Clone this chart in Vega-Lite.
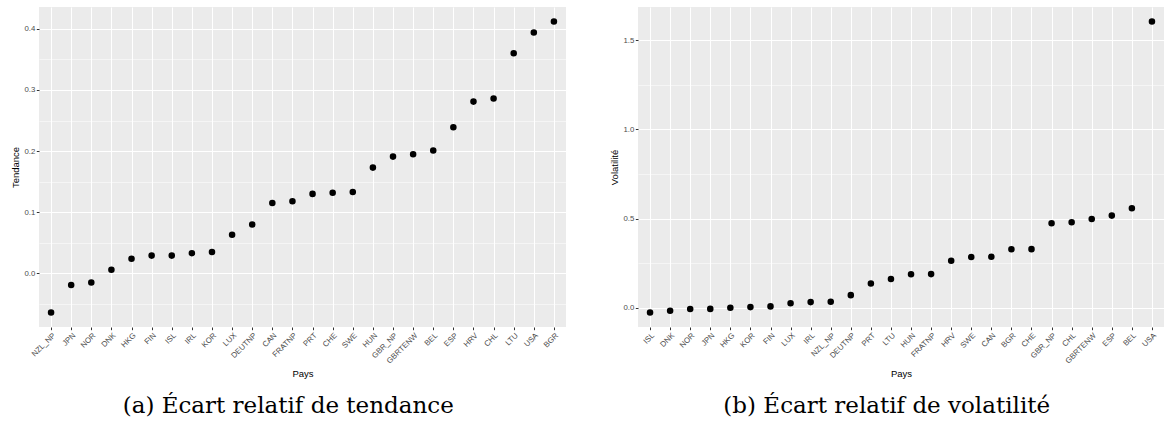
{
  "$schema": "https://vega.github.io/schema/vega-lite/v6.json",
  "background": "white",
  "padding": {"left": 10, "top": 7, "right": 0, "bottom": 0},
  "spacing": 43,
  "datasets": {
    "tendance": [
      {"pays": "NZL_NP", "ecart": -0.064},
      {"pays": "JPN", "ecart": -0.019},
      {"pays": "NOR", "ecart": -0.015},
      {"pays": "DNK", "ecart": 0.006},
      {"pays": "HKG", "ecart": 0.024},
      {"pays": "FIN", "ecart": 0.029},
      {"pays": "ISL", "ecart": 0.029},
      {"pays": "IRL", "ecart": 0.033},
      {"pays": "KOR", "ecart": 0.035},
      {"pays": "LUX", "ecart": 0.063},
      {"pays": "DEUTNP", "ecart": 0.080},
      {"pays": "CAN", "ecart": 0.115},
      {"pays": "FRATNP", "ecart": 0.118},
      {"pays": "PRT", "ecart": 0.130},
      {"pays": "CHE", "ecart": 0.132},
      {"pays": "SWE", "ecart": 0.133},
      {"pays": "HUN", "ecart": 0.173},
      {"pays": "GBR_NP", "ecart": 0.191},
      {"pays": "GBRTENW", "ecart": 0.195},
      {"pays": "BEL", "ecart": 0.201},
      {"pays": "ESP", "ecart": 0.239},
      {"pays": "HRV", "ecart": 0.281},
      {"pays": "CHL", "ecart": 0.286},
      {"pays": "LTU", "ecart": 0.360},
      {"pays": "USA", "ecart": 0.394},
      {"pays": "BGR", "ecart": 0.412}
    ],
    "volatilite": [
      {"pays": "ISL", "ecart": -0.026},
      {"pays": "DNK", "ecart": -0.017},
      {"pays": "NOR", "ecart": -0.007},
      {"pays": "JPN", "ecart": -0.006},
      {"pays": "HKG", "ecart": 0.000},
      {"pays": "KOR", "ecart": 0.004},
      {"pays": "FIN", "ecart": 0.008},
      {"pays": "LUX", "ecart": 0.026},
      {"pays": "IRL", "ecart": 0.032},
      {"pays": "NZL_NP", "ecart": 0.034},
      {"pays": "DEUTNP", "ecart": 0.071},
      {"pays": "PRT", "ecart": 0.136},
      {"pays": "LTU", "ecart": 0.161},
      {"pays": "HUN", "ecart": 0.188},
      {"pays": "FRATNP", "ecart": 0.189},
      {"pays": "HRV", "ecart": 0.264},
      {"pays": "SWE", "ecart": 0.285},
      {"pays": "CAN", "ecart": 0.286},
      {"pays": "BGR", "ecart": 0.328},
      {"pays": "CHE", "ecart": 0.329},
      {"pays": "GBR_NP", "ecart": 0.474},
      {"pays": "CHL", "ecart": 0.480},
      {"pays": "GBRTENW", "ecart": 0.498},
      {"pays": "ESP", "ecart": 0.517},
      {"pays": "BEL", "ecart": 0.558},
      {"pays": "USA", "ecart": 1.605}
    ]
  },
  "hconcat": [
    {
      "width": 527,
      "height": 320,
      "data": {"name": "tendance"},
      "title": {"text": "(a) Écart relatif de tendance"},
      "mark": {"type": "circle", "size": 43, "color": "black", "opacity": 1},
      "encoding": {
        "x": {
          "field": "pays",
          "type": "nominal",
          "sort": null,
          "title": "Pays",
          "scale": {"type": "point", "padding": 0.6}
        },
        "y": {
          "field": "ecart",
          "type": "quantitative",
          "title": "Tendance",
          "scale": {"domain": [-0.0878, 0.4358], "nice": false, "zero": false},
          "axis": {
            "values": [-0.05, 0, 0.05, 0.1, 0.15, 0.2, 0.25, 0.3, 0.35, 0.4],
            "labelExpr": "abs(datum.value * 10 - round(datum.value * 10)) > 0.01 ? '' : format(datum.value, '.1f')",
            "gridWidth": {"condition": {"test": "abs(datum.value * 10 - round(datum.value * 10)) > 0.01", "value": 0.5}, "value": 1},
            "tickOpacity": {"condition": {"test": "abs(datum.value * 10 - round(datum.value * 10)) > 0.01", "value": 0}, "value": 1}
          }
        }
      }
    },
    {
      "width": 526,
      "height": 320,
      "data": {"name": "volatilite"},
      "title": {"text": "(b) Écart relatif de volatilité"},
      "mark": {"type": "circle", "size": 43, "color": "black", "opacity": 1},
      "encoding": {
        "x": {
          "field": "pays",
          "type": "nominal",
          "sort": null,
          "title": "Pays",
          "scale": {"type": "point", "padding": 0.6}
        },
        "y": {
          "field": "ecart",
          "type": "quantitative",
          "title": "Volatilité",
          "scale": {"domain": [-0.1076, 1.6866], "nice": false, "zero": false},
          "axis": {
            "values": [0, 0.25, 0.5, 0.75, 1, 1.25, 1.5],
            "labelExpr": "abs(datum.value * 2 - round(datum.value * 2)) > 0.01 ? '' : format(datum.value, '.1f')",
            "gridWidth": {"condition": {"test": "abs(datum.value * 2 - round(datum.value * 2)) > 0.01", "value": 0.5}, "value": 1},
            "tickOpacity": {"condition": {"test": "abs(datum.value * 2 - round(datum.value * 2)) > 0.01", "value": 0}, "value": 1}
          }
        }
      }
    }
  ],
  "config": {
    "view": {"fill": "#EBEBEB", "stroke": null},
    "axis": {
      "domain": false,
      "grid": true,
      "gridColor": "white",
      "tickColor": "#333333",
      "tickSize": 2.7,
      "tickWidth": 1,
      "labelFont": "Liberation Sans",
      "labelFontSize": 7.8,
      "labelColor": "#4D4D4D",
      "labelPadding": 1.5,
      "titleFont": "Liberation Sans",
      "titleFontSize": 9.5,
      "titleFontWeight": "normal",
      "titleColor": "black",
      "titlePadding": 3.5
    },
    "axisX": {
      "labelAngle": -45,
      "labelAlign": "right",
      "labelBaseline": "top",
      "gridWidth": 1,
      "titlePadding": 4
    },
    "title": {
      "orient": "bottom",
      "anchor": "middle",
      "frame": "bounds",
      "font": "DejaVu Serif",
      "fontSize": 23,
      "fontWeight": "normal",
      "color": "black",
      "offset": 17
    }
  }
}
